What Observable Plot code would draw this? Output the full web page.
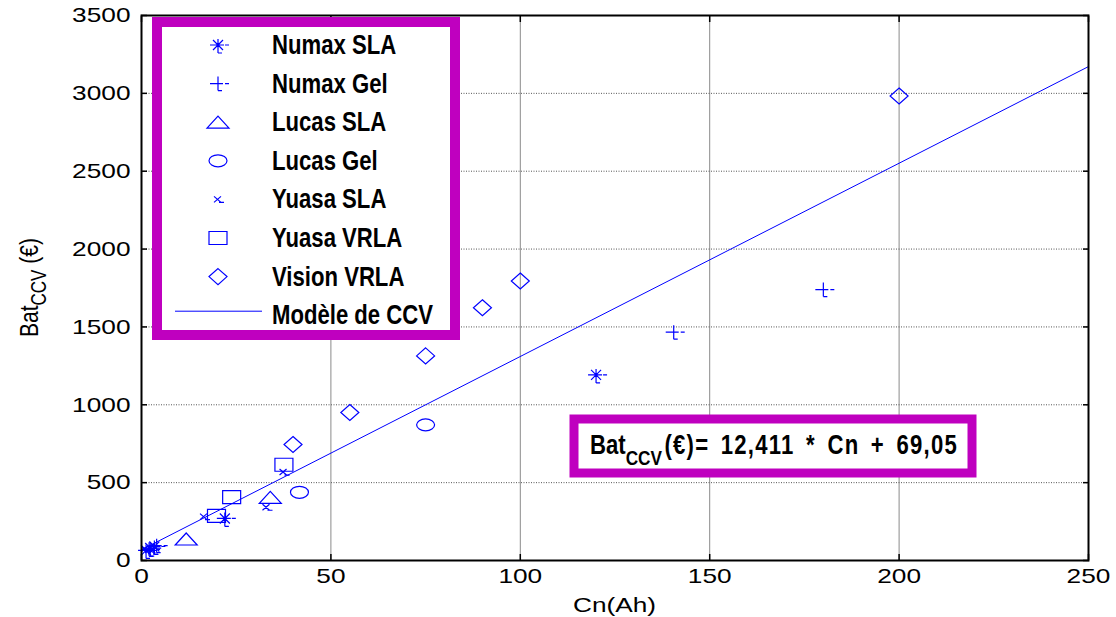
<!DOCTYPE html>
<html><head><meta charset="utf-8">
<script src="https://cdn.jsdelivr.net/npm/d3@7"></script>
<script src="https://cdn.jsdelivr.net/npm/@observablehq/plot@0.6"></script>
<style>body{margin:0;background:#fff;} #chart svg{display:block;}</style>
</head><body><div id="chart"></div>
<script>
// ---- data ----
const xTicks = [0, 50, 100, 150, 200, 250];
const yTicks = [0, 500, 1000, 1500, 2000, 2500, 3000, 3500];

const numaxSLA_x = [1.2, 2.3, 3.4, 22, 120];
const numaxSLA_y = [65, 80, 90, 270, 1192];
const numaxGel_x = [2.0, 4.0, 140.5, 180];
const numaxGel_y = [72, 95, 1466, 1740];
const lucasSLA_x = [11.8, 34];
const lucasSLA_y = [138, 405];
const lucasGel_x = [41.7, 75];
const lucasGel_y = [438, 871];
const yuasaSLA_x = [1.0, 2.8, 16.5, 33, 37.5];
const yuasaSLA_y = [75, 60, 282, 342, 568];
const yuasaVRLA_x = [19.8, 23.8, 37.6];
const yuasaVRLA_y = [286, 407, 615];
const visionVRLA_x = [40, 55, 75, 90, 100, 200];
const visionVRLA_y = [745, 950, 1314, 1623, 1795, 2983];

const modelX = [0, 250];
const modelY = [69, 3172];

const seriesNames = ["Numax SLA", "Numax Gel", "Lucas SLA", "Lucas Gel", "Yuasa SLA", "Yuasa VRLA", "Vision VRLA"];
const modelName = "Modèle de CCV";
const xLabel = "Cn(Ah)";
const equationText = ["Bat", "CCV", "(€)= 12,411 * Cn + 69,05"];

// ---- marker shapes (MATLAB-like) ----
const BLUE = "#0000ff";
const MAG = "#bf00bf";
function segs(list) {
  return {draw(ctx) { for (const [a, b, c, d] of list) { ctx.moveTo(a, b); ctx.lineTo(c, d); } }};
}
function poly(pts) {
  return {draw(ctx) { ctx.moveTo(pts[0][0], pts[0][1]); for (const p of pts.slice(1)) ctx.lineTo(p[0], p[1]); ctx.closePath(); }};
}
const symAsterisk = segs([[-8,0,6,0],[0,-6,0,6],[-5,-5,5,5],[-5,5,5,-5],[7,0,11,0],[0,6,0,8],[0,8,4,8]]);
const symPlus = segs([[-8,0,5,0],[0,-7,0,7],[0,7,4,7],[7,0,11,0]]);
const symTri = poly([[0,-6],[11,6],[-11,6]]);
const symEllipse = {draw(ctx) {
  const rx = 9, ry = 6, k = 0.5523;
  ctx.moveTo(rx, 0);
  ctx.bezierCurveTo(rx, ry*k, rx*k, ry, 0, ry);
  ctx.bezierCurveTo(-rx*k, ry, -rx, ry*k, -rx, 0);
  ctx.bezierCurveTo(-rx, -ry*k, -rx*k, -ry, 0, -ry);
  ctx.bezierCurveTo(rx*k, -ry, rx, -ry*k, rx, 0);
  ctx.closePath();
}};
const symX = segs([[-4,-3,3,3],[-4,3,3,-3],[1,3,6,3]]);
const symSquare = poly([[-9,-6.5],[9,-6.5],[9,6.5],[-9,6.5]]);
const symDiamond = poly([[0,-8],[9,0],[0,8],[-9,0]]);

const symbols = [symAsterisk, symPlus, symTri, symEllipse, symX, symSquare, symDiamond];
const xs = [numaxSLA_x, numaxGel_x, lucasSLA_x, lucasGel_x, yuasaSLA_x, yuasaVRLA_x, visionVRLA_x];
const ys = [numaxSLA_y, numaxGel_y, lucasSLA_y, lucasGel_y, yuasaSLA_y, yuasaVRLA_y, visionVRLA_y];

const seriesData = seriesNames.map((name, i) => xs[i].map((x, j) => ({series: name, x, y: ys[i][j]})));
const modelData = modelX.map((x, i) => ({x, y: modelY[i]}));
const fmt = d => String(d);

const chart = Plot.plot({
  width: 1116, height: 617,
  marginLeft: 141, marginRight: 28, marginTop: 15, marginBottom: 57,
  style: {fontFamily: "'Liberation Sans', Arial, sans-serif", fontSize: "21px", color: "black", background: "white"},
  x: {domain: [0, 250]},
  y: {domain: [0, 3500]},
  marks: [
    Plot.ruleX(xTicks.slice(1, -1), {stroke: "#8a8a8a", strokeWidth: 1}),
    Plot.ruleY(yTicks.slice(1, -1), {stroke: "#555", strokeWidth: 1, strokeDasharray: "1,1.5"}),
    Plot.line(modelData, {x: "x", y: "y", stroke: BLUE, strokeWidth: 1}),
    ...seriesData.map((d, i) => Plot.dot(d, {x: "x", y: "y", symbol: symbols[i], stroke: BLUE, fill: "none", strokeWidth: 1.2})),
    Plot.axisX({ticks: xTicks, tickSize: -6, tickPadding: 14, tickFormat: fmt, label: null, strokeWidth: 1.5}),
    Plot.axisX({anchor: "top", ticks: xTicks, tickSize: -6, tickFormat: () => "", label: null, strokeWidth: 1.5}),
    Plot.axisY({ticks: yTicks, tickSize: -6, tickPadding: 17, tickFormat: fmt, label: null, strokeWidth: 1.5}),
    Plot.axisY({anchor: "right", ticks: yTicks, tickSize: -6, tickFormat: () => "", label: null, strokeWidth: 1.5}),
    Plot.frame({stroke: "black", strokeWidth: 2})
  ]
});
document.getElementById("chart").appendChild(chart);

const svg = d3.select(chart);
// stretch tick labels horizontally like the reference
svg.selectAll("g[aria-label='x-axis tick label'] text, g[aria-label='y-axis tick label'] text").each(function() {
  const t = d3.select(this);
  const tr = t.attr("transform") || "";
  t.attr("transform", tr + " scale(1.25,1)");
});

const xs0 = chart.scale("x"), ys0 = chart.scale("y");
const xMid = (xs0.apply(0) + xs0.apply(250)) / 2;
const yMid = (ys0.apply(0) + ys0.apply(3500)) / 2;

// axis labels
svg.append("text").attr("transform", `translate(${xMid},612) scale(1.25,1)`)
  .attr("text-anchor", "middle").attr("font-size", 21).attr("font-family", "'Liberation Sans', Arial, sans-serif")
  .attr("fill", "black").text(xLabel);
const yl = svg.append("text").attr("transform", `translate(38,${yMid}) rotate(-90) scale(1,1.25)`)
  .attr("text-anchor", "middle").attr("font-size", 21).attr("font-family", "'Liberation Sans', Arial, sans-serif")
  .attr("fill", "black");
yl.append("tspan").text("Bat");
yl.append("tspan").attr("font-size", 17).attr("dy", 6).text("CCV");
yl.append("tspan").attr("dy", -6).text(" (€)");

// legend
const boldFont = "'Liberation Sans', Arial, sans-serif";
const lg = svg.append("g").attr("text-anchor", "start");
lg.append("rect").attr("x", 157).attr("y", 22).attr("width", 298).attr("height", 313)
  .attr("fill", "white").attr("stroke", MAG).attr("stroke-width", 10);
const names = [...seriesNames, modelName];
names.forEach((name, i) => {
  const cy = 45 + i * 38.6;
  if (i < seriesNames.length) {
    lg.append("path").attr("d", d3.symbol(symbols[i])()).attr("transform", `translate(218,${cy})`)
      .attr("fill", "none").attr("stroke", BLUE).attr("stroke-width", 1.2);
  } else {
    lg.append("line").attr("x1", 175).attr("x2", 262).attr("y1", cy - 4).attr("y2", cy - 4)
      .attr("stroke", BLUE).attr("stroke-width", 1);
  }
  lg.append("text").attr("transform", `translate(272,${cy + 9}) scale(0.82,1)`)
    .attr("text-anchor", "start")
    .attr("font-family", boldFont).attr("font-weight", "bold").attr("font-size", 27)
    .attr("fill", "black").text(name);
});

// equation box
const eq = svg.append("g").attr("text-anchor", "start");
eq.append("rect").attr("x", 574).attr("y", 419).attr("width", 398).attr("height", 54)
  .attr("fill", "white").attr("stroke", MAG).attr("stroke-width", 9);
const et = eq.append("text").attr("transform", "translate(590,454) scale(0.82,1)")
  .attr("text-anchor", "start")
  .attr("font-family", boldFont).attr("font-weight", "bold").attr("font-size", 27).attr("fill", "black");
et.append("tspan").text(equationText[0]);
et.append("tspan").attr("font-size", 21).attr("dy", 11).text(equationText[1]);
et.append("tspan").attr("dy", -11).attr("dx", 3).attr("letter-spacing", 1.5).attr("word-spacing", 5).text(equationText[2]);
</script>
</body></html>
